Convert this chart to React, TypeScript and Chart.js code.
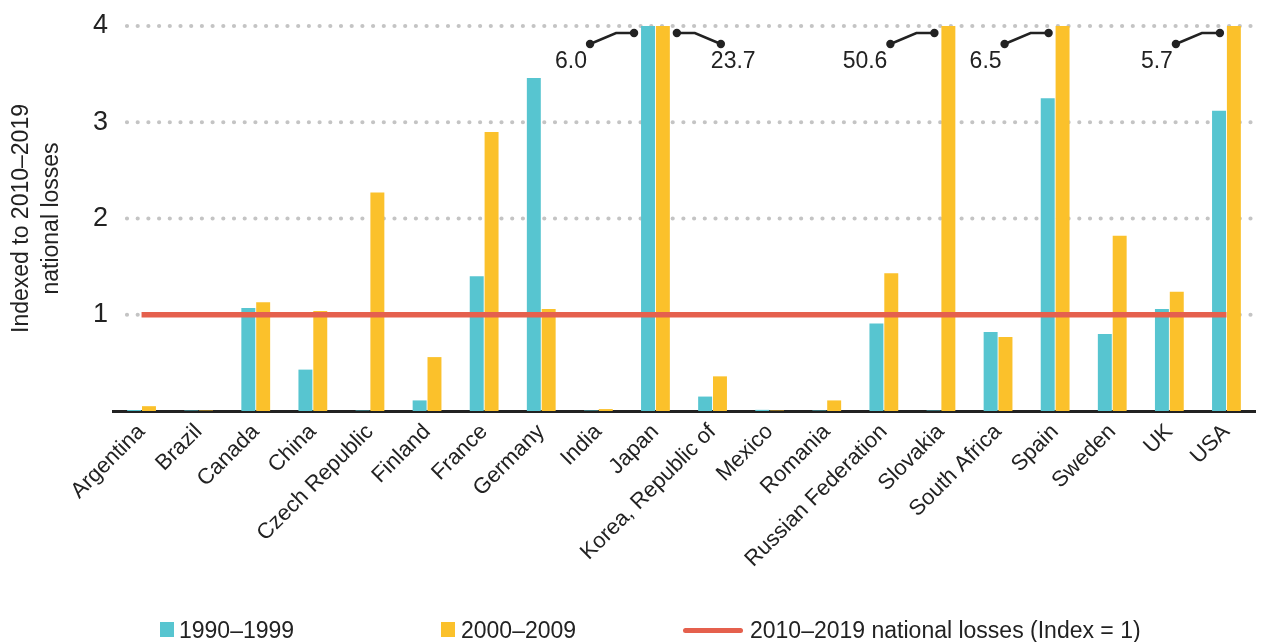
import React, { useEffect, useRef } from "react";
import { Chart, registerables } from "chart.js";

Chart.register(...registerables);

const countries = [
  "Argentina", "Brazil", "Canada", "China", "Czech Republic", "Finland", "France",
  "Germany", "India", "Japan", "Korea, Republic of", "Mexico", "Romania",
  "Russian Federation", "Slovakia", "South Africa", "Spain", "Sweden", "UK", "USA",
];
const losses1990s = [0.01, 0.005, 1.07, 0.43, 0.005, 0.11, 1.4, 3.46, 0.005, 6.0, 0.15, 0.012, 0.005, 0.91, 0.005, 0.82, 3.25, 0.8, 1.06, 3.12];
const losses2000s = [0.05, 0.005, 1.13, 1.04, 2.27, 0.56, 2.9, 1.06, 0.02, 23.7, 0.36, 0.005, 0.11, 1.43, 50.6, 0.77, 6.5, 1.82, 1.24, 5.7];
const indexLine = [1, 1, 1, 1, 1, 1, 1, 1, 1, 1, 1, 1, 1, 1, 1, 1, 1, 1, 1, 1];
const seriesLabels = ["1990–1999", "2000–2009", "2010–2019 national losses (Index = 1)"];
const yTicks = [1, 2, 3, 4];
const yMax = 4;
const yTitle = ["Indexed to 2010–2019", "national losses"];
// bars that run past the top of the axis, labelled with their real value
const overflowNotes = [
  { category: "Japan", series: 0, side: -1 },
  { category: "Japan", series: 1, side: 1 },
  { category: "Slovakia", series: 1, side: -1 },
  { category: "Spain", series: 1, side: -1 },
  { category: "USA", series: 1, side: -1 },
];

const TEAL = "#57C5D0";
const YELLOW = "#FBC12B";
const RED = "#E5604D";
const INK = "#222222";
const FONT = "'Liberation Sans', Arial, sans-serif";

const dottedGrid = {
  id: "dottedGrid",
  beforeDatasetsDraw(chart: any) {
    const { ctx, chartArea, scales } = chart;
    ctx.save();
    ctx.strokeStyle = "#c4c4c4";
    ctx.lineWidth = 4.2;
    ctx.lineCap = "round";
    ctx.setLineDash([0, 10.7]);
    yTicks.forEach((t) => {
      const y = scales.y.getPixelForValue(t);
      ctx.beginPath();
      ctx.moveTo(chartArea.left + 14, y);
      ctx.lineTo(chartArea.right + 3, y);
      ctx.stroke();
    });
    ctx.restore();
  },
};

const overflowLabels = {
  id: "overflowLabels",
  afterDatasetsDraw(chart: any) {
    const { ctx, chartArea } = chart;
    const top = chartArea.top;
    ctx.save();
    overflowNotes.forEach((n) => {
      const idx = countries.indexOf(n.category);
      const el: any = chart.getDatasetMeta(n.series).data[idx];
      if (!el) return;
      const values = n.series === 0 ? losses1990s : losses2000s;
      const x0 = el.x + n.side * (el.width / 2 + 7);
      const p1 = { x: x0, y: top + 7 };
      const p2 = { x: x0 + n.side * 18, y: top + 7 };
      const p3 = { x: x0 + n.side * 44, y: top + 18 };
      ctx.strokeStyle = INK;
      ctx.fillStyle = INK;
      ctx.lineWidth = 2.5;
      ctx.setLineDash([]);
      ctx.beginPath();
      ctx.moveTo(p1.x, p1.y);
      ctx.lineTo(p2.x, p2.y);
      ctx.lineTo(p3.x, p3.y);
      ctx.stroke();
      [p1, p3].forEach((p) => {
        ctx.beginPath();
        ctx.arc(p.x, p.y, 4.2, 0, Math.PI * 2);
        ctx.fill();
      });
      ctx.font = `23px ${FONT}`;
      ctx.textBaseline = "middle";
      if (n.side < 0) {
        ctx.textAlign = "right";
        ctx.fillText(values[idx].toFixed(1), x0 - 47, top + 36);
      } else {
        ctx.textAlign = "left";
        ctx.fillText(values[idx].toFixed(1), x0 + 34, top + 36);
      }
    });
    ctx.restore();
  },
};

export default function App() {
  const canvasRef = useRef<HTMLCanvasElement | null>(null);

  useEffect(() => {
    document.body.style.margin = "0";
    const canvas = canvasRef.current;
    if (!canvas) return;
    const chart = new Chart(canvas, {
      type: "bar",
      data: {
        labels: countries,
        datasets: [
          {
            type: "bar",
            label: seriesLabels[0],
            data: losses1990s,
            backgroundColor: TEAL,
            categoryPercentage: 0.52,
            barPercentage: 0.94,
            order: 1,
          },
          {
            type: "bar",
            label: seriesLabels[1],
            data: losses2000s,
            backgroundColor: YELLOW,
            categoryPercentage: 0.52,
            barPercentage: 0.94,
            order: 1,
          },
          {
            type: "line",
            label: seriesLabels[2],
            data: indexLine,
            borderColor: RED,
            borderWidth: 5.5,
            pointRadius: 0,
            borderCapStyle: "butt",
            order: 0,
          } as any,
        ],
      },
      options: {
        animation: false,
        responsive: true,
        maintainAspectRatio: false,
        devicePixelRatio: 1,
        layout: { padding: { top: 26, right: 6, left: 0, bottom: 0 } },
        plugins: { legend: { display: false }, tooltip: { enabled: false } },
        scales: {
          x: {
            grid: { display: false, drawTicks: false },
            border: { display: true, color: INK, width: 3 },
            ticks: {
              color: INK,
              font: { family: FONT, size: 22 },
              minRotation: 45,
              maxRotation: 45,
              autoSkip: false,
              padding: 8,
            },
            afterFit: (scale: any) => {
              scale.height = 231;
            },
          },
          y: {
            min: 0,
            max: yMax,
            grid: { display: false, drawTicks: false },
            border: { display: false },
            ticks: {
              stepSize: 1,
              color: INK,
              padding: 5,
              font: { family: FONT, size: 27 },
              callback: (v: any) => (yTicks.includes(Number(v)) ? String(v) : ""),
            },
            title: {
              display: true,
              text: yTitle,
              color: INK,
              font: { family: FONT, size: 23, lineHeight: 1.3 },
              padding: { top: 7, bottom: 0 },
            },
            afterFit: (scale: any) => {
              scale.width = 113;
            },
          },
        },
      },
      plugins: [dottedGrid, overflowLabels],
    });
    return () => chart.destroy();
  }, []);

  const legendText: React.CSSProperties = {
    position: "absolute",
    top: 617,
    fontFamily: FONT,
    fontSize: 23,
    color: INK,
    lineHeight: "26px",
    whiteSpace: "nowrap",
  };

  return (
    <div style={{ position: "relative", width: 1261, height: 642, background: "#fff" }}>
      <canvas ref={canvasRef} width={1261} height={642} />
      <div style={{ position: "absolute", left: 160, top: 622, width: 14, height: 15, background: TEAL }} />
      <div style={{ ...legendText, left: 179 }}>{seriesLabels[0]}</div>
      <div style={{ position: "absolute", left: 441, top: 622, width: 14, height: 15, background: YELLOW }} />
      <div style={{ ...legendText, left: 461 }}>{seriesLabels[1]}</div>
      <div style={{ position: "absolute", left: 683, top: 628, width: 60, height: 5, borderRadius: 3, background: RED }} />
      <div style={{ ...legendText, left: 750 }}>{seriesLabels[2]}</div>
    </div>
  );
}
